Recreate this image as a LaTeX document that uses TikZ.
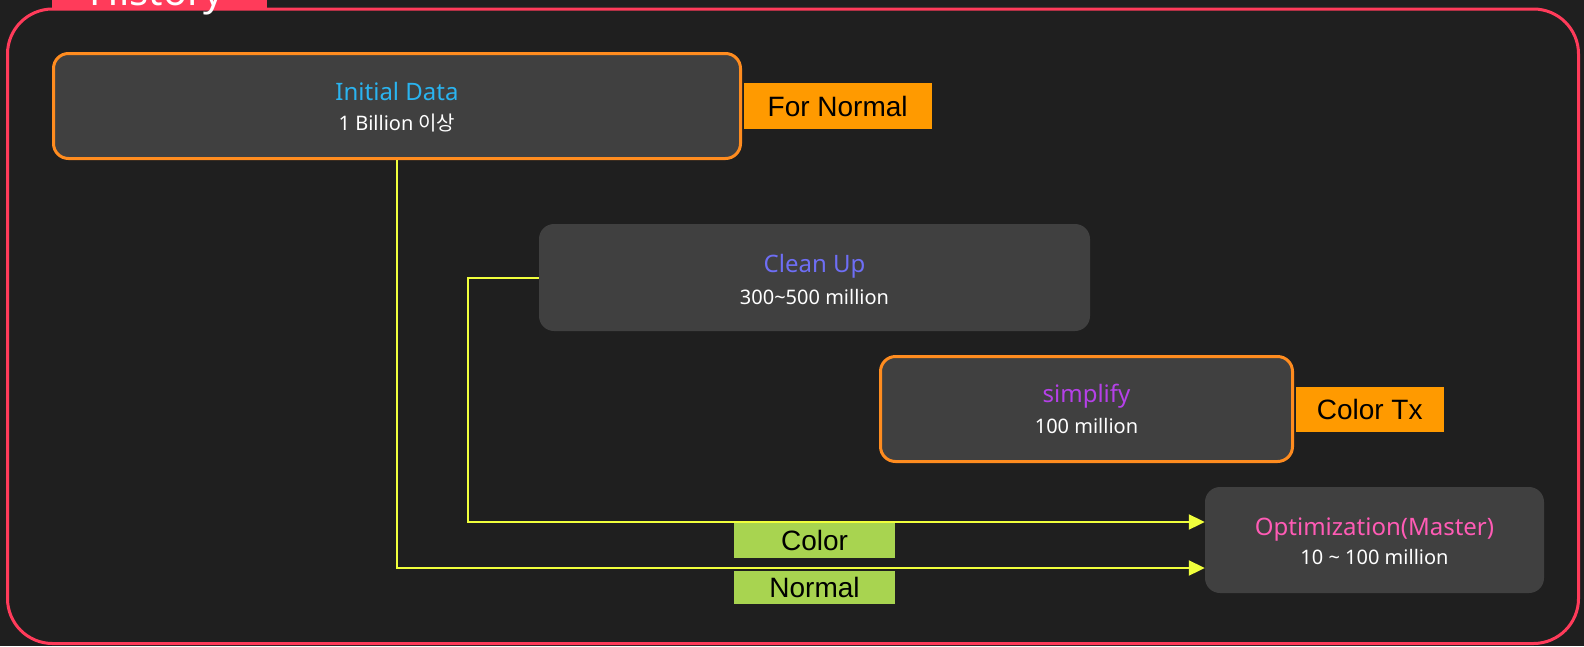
\documentclass[tikz,border=0pt]{standalone}
\usepackage{fontspec}
\setmainfont{Noto Sans}
\newfontfamily\kr{Noto Sans CJK KR}
\newfontfamily\lab{Liberation Sans}
\usetikzlibrary{arrows.meta}
\definecolor{bg}{HTML}{1F1F1F}
\definecolor{boxgray}{HTML}{404040}
\definecolor{orangeb}{HTML}{FF8C1F}
\definecolor{tagorange}{HTML}{FF9A00}
\definecolor{taggreen}{HTML}{A8D450}
\definecolor{lineyellow}{HTML}{F0FF3C}
\definecolor{framered}{HTML}{FF3B5A}
\definecolor{cblue}{HTML}{2AB4F0}
\definecolor{cindigo}{HTML}{6E6EF5}
\definecolor{cpurple}{HTML}{B540E8}
\definecolor{cpink}{HTML}{FF5BB5}
\tikzset{
  box/.style={fill=boxgray, rounded corners=15pt, inner sep=0pt},
  obox/.style={box, draw=orangeb, line width=3pt},
  ttl/.style={font=\fontsize{24}{28}\selectfont, inner sep=0pt},
  sub/.style={font=\fontsize{20}{24}\selectfont, text=white, inner sep=0pt},
  tag/.style={font=\lab\fontsize{28}{32}\selectfont, text=black, inner sep=0pt},
  conn/.style={draw=lineyellow, line width=2pt, -{Triangle[length=16pt,width=15pt]}},
}
\begin{document}
\begin{tikzpicture}[x=1pt,y=-1pt]
\useasboundingbox (0,0) rectangle (1584,646);
\clip (0,0) rectangle (1584,646);
\fill[bg] (0,0) rectangle (1584,646);
% frame
\draw[framered, line width=3pt, rounded corners=45pt] (7.5,9) rectangle (1578.5,643.5);
\fill[framered] (52,0) rectangle (267,8);
\node[anchor=base, text=white, font=\fontsize{40}{44}\selectfont\bfseries, inner sep=0pt] (hist) at (157,5) {History};
% boxes
\node[obox, minimum width=687pt, minimum height=105pt] (init) at (397,106) {};
\node[ttl, text=cblue] (initT) at ([yshift=15pt]init.center) {Initial Data};
\node[sub] (initS) at ([yshift=-17pt]init.center) {1 Billion {\kr 이상}};

\node[box, minimum width=551pt, minimum height=107pt] (clean) at (814.5,277.5) {};
\node[ttl, text=cindigo] (cleanT) at ([yshift=11pt]clean.center) {Clean Up};
\node[sub] (cleanS) at ([yshift=-19pt]clean.center) {300\char"7E 500 million};

\node[obox, minimum width=412pt, minimum height=105pt] (simp) at (1086.5,409) {};
\node[ttl, text=cpurple] (simpT) at ([yshift=13pt]simp.center) {simplify};
\node[sub] (simpS) at ([yshift=-17pt]simp.center) {100 million};

\node[box, minimum width=339pt, minimum height=106pt] (opt) at (1374.5,540) {};
\node[ttl, text=cpink] (optT) at ([yshift=10pt]opt.center) {Optimization(Master)};
\node[sub] (optS) at ([yshift=-17pt]opt.center) {10 \char"7E{} 100 million};
% tags
\node[tag, fill=tagorange, minimum width=188pt, minimum height=46pt, anchor=west] (forN) at ([xshift=1.5pt]init.east) {For Normal};
\node[tag, fill=tagorange, minimum width=148pt, minimum height=45pt, anchor=west] (colTx) at ([xshift=1.5pt]simp.east) {Color Tx};
% connectors
\draw[conn] (init.south) |- ([yshift=-28pt]opt.west);
\draw[conn] (clean.west) -- ++(-71,0) |- ([yshift=18pt]opt.west);
\node[tag, fill=taggreen, minimum width=161pt, minimum height=35pt] (colL) at (814.5,540.5) {Color};
\node[tag, fill=taggreen, minimum width=161pt, minimum height=33pt] (norL) at (814.5,587.5) {Normal};
\end{tikzpicture}
\end{document}
